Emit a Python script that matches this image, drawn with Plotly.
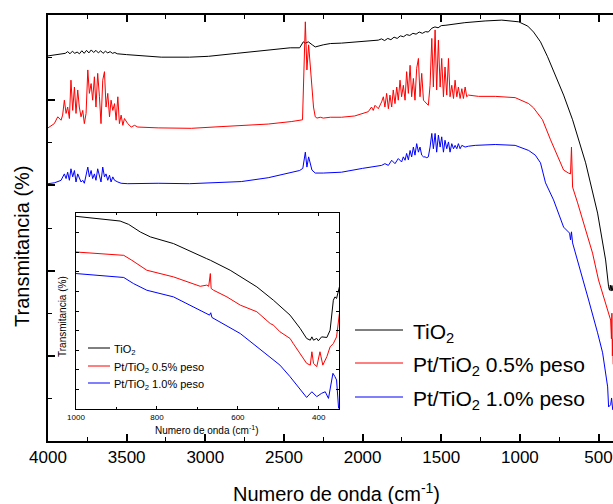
import plotly.graph_objects as go

FONT = "Liberation Sans, Arial, sans-serif"

# ---------------- main spectra (wavenumber in cm-1, transmittance in %) ----------------
tio2_wn = [4000, 3960, 3920, 3890, 3875, 3860, 3845, 3830, 3815, 3800, 3785, 3770, 3755,
           3740, 3725, 3710, 3695, 3680, 3665, 3650, 3635, 3620, 3605, 3590, 3575, 3560,
           3500, 3400, 3280, 3100, 2980, 2800, 2600, 2460, 2400, 2377, 2364, 2345, 2320,
           2301, 2250, 2205, 2134, 2050, 1962, 1900, 1880, 1860, 1840, 1820, 1800, 1780,
           1760, 1740, 1720, 1700, 1680, 1660, 1640, 1620, 1600, 1582, 1560, 1540, 1520,
           1500, 1470, 1454, 1350, 1221, 1115, 1008, 950, 913, 869, 824, 773, 722, 665,
           582, 506, 455, 436, 430, 425, 420, 415, 410, 405]
tio2_t = [90.4, 90.6, 90.8, 91.0, 91.4, 90.9, 91.5, 91.0, 91.3, 90.9, 91.6, 91.0, 91.7,
          91.1, 91.8, 91.2, 91.7, 91.1, 91.6, 91.0, 91.5, 91.1, 91.4, 91.0, 91.2, 90.9,
          90.7, 90.4, 90.1, 90.1, 90.3, 91.0, 91.7, 92.3, 92.3, 93.7, 93.4, 93.7, 93.0,
          92.5, 93.0, 93.3, 93.4, 93.6, 93.9, 94.1, 94.4, 94.0, 94.5, 94.2, 94.8, 94.5,
          95.1, 94.9, 95.4, 95.2, 95.7, 95.5, 96.0, 95.7, 96.1, 96.0, 96.9, 97.2, 97.0,
          97.5, 97.6, 97.7, 98.2, 98.6, 98.8, 98.4, 97.4, 96.0, 93.7, 90.2, 85.9, 81.2,
          75.4, 65.3, 53.5, 42.5, 36.2, 35.4, 36.6, 35.2, 36.5, 35.3, 36.0]

pt05_wn = [4000, 3991, 3960, 3938, 3917, 3907, 3896, 3885, 3875, 3864, 3854, 3843, 3832,
           3822, 3811, 3801, 3790, 3779, 3769, 3758, 3747, 3737, 3726, 3716, 3705, 3695,
           3684, 3673, 3663, 3652, 3641, 3631, 3620, 3609, 3599, 3588, 3577, 3567, 3556,
           3546, 3535, 3524, 3514, 3493, 3471, 3450, 3429, 3300, 3089, 2900, 2771, 2600,
           2450, 2382, 2364, 2354, 2343, 2333, 2322, 2312, 2301, 2290, 2269, 2250, 2205,
           2134, 2050, 2006, 1964, 1943, 1932, 1921, 1900, 1879, 1868, 1858, 1847, 1836,
           1826, 1815, 1805, 1794, 1783, 1773, 1762, 1752, 1741, 1730, 1720, 1709, 1698,
           1688, 1677, 1667, 1656, 1645, 1635, 1624, 1613, 1603, 1592, 1582, 1571, 1560,
           1550, 1539, 1529, 1518, 1507, 1497, 1486, 1476, 1465, 1454, 1444, 1433, 1422,
           1412, 1401, 1391, 1380, 1369, 1359, 1348, 1338, 1327, 1263, 1157, 1030, 944,
           913, 856, 805, 722, 691, 678, 672, 668, 665, 633, 595, 538, 500, 474, 442, 423,
           418, 415, 412, 409, 407]
pt05_t = [73.5, 73.7, 74.5, 76.1, 75.3, 76.5, 80.0, 76.9, 78.4, 75.7, 84.7, 77.6, 83.1,
          76.9, 82.4, 78.4, 76.1, 77.6, 74.5, 76.9, 87.1, 81.6, 83.9, 80.0, 85.5, 78.4,
          86.3, 80.8, 74.5, 84.7, 86.7, 78.4, 81.6, 76.1, 80.0, 77.6, 79.2, 75.3, 80.8,
          74.5, 76.5, 74.1, 75.7, 74.5, 73.7, 74.1, 73.7, 73.5, 73.4, 73.8, 74.1, 74.4,
          75.0, 75.4, 98.4, 87.1, 93.0, 88.7, 83.1, 78.4, 76.1, 75.8, 76.0, 75.8, 76.0,
          76.0, 76.3, 76.9, 77.3, 78.4, 77.6, 78.8, 78.0, 79.6, 80.8, 78.4, 81.6, 78.0,
          81.2, 78.4, 82.4, 79.2, 83.1, 80.0, 84.7, 80.8, 83.5, 80.0, 86.7, 81.6, 88.2,
          80.8, 85.1, 80.0, 87.5, 89.8, 80.8, 86.3, 80.0, 79.6, 79.2, 78.8, 83.5, 94.5,
          83.1, 96.5, 82.4, 94.1, 83.1, 89.8, 80.8, 87.8, 81.2, 89.8, 80.8, 83.5, 80.4,
          84.7, 80.8, 83.1, 80.4, 82.7, 80.4, 83.1, 80.8, 81.2, 80.9, 80.9, 80.6, 79.2,
          78.2, 75.4, 70.7, 63.6, 62.9, 62.7, 69.0, 62.4, 59.6, 55.9, 51.2, 44.1, 37.8,
          34.7, 30.8, 28.4, 24.0, 30.0, 20.0, 24.0, 18.0]

pt10_wn = [4000, 3960, 3930, 3917, 3896, 3885, 3875, 3864, 3854, 3843, 3832, 3822, 3811,
           3801, 3790, 3779, 3769, 3747, 3737, 3726, 3716, 3705, 3695, 3684, 3673, 3663,
           3652, 3641, 3631, 3620, 3609, 3599, 3588, 3577, 3556, 3535, 3493, 3300, 3100,
           2900, 2771, 2600, 2450, 2400, 2380, 2364, 2354, 2343, 2322, 2301, 2250, 2134,
           2000, 1900, 1879, 1858, 1836, 1815, 1794, 1773, 1752, 1741, 1730, 1720, 1709,
           1698, 1688, 1677, 1667, 1656, 1645, 1635, 1624, 1613, 1603, 1592, 1582, 1571,
           1560, 1550, 1539, 1529, 1518, 1507, 1497, 1486, 1476, 1465, 1454, 1444, 1433,
           1422, 1412, 1401, 1391, 1380, 1369, 1348, 1327, 1284, 1157, 1030, 944, 902,
           869, 837, 786, 722, 684, 678, 672, 665, 614, 563, 506, 474, 442, 436, 423, 417,
           410]
pt10_t = [60.4, 60.6, 61.0, 61.2, 62.7, 61.6, 63.1, 61.2, 63.9, 62.0, 63.5, 60.8, 62.7,
          61.6, 60.8, 61.2, 60.5, 64.3, 62.0, 63.5, 61.6, 62.7, 61.2, 63.9, 62.4, 60.8,
          64.3, 62.0, 62.7, 61.2, 62.4, 60.8, 62.0, 61.2, 60.8, 60.5, 60.4, 60.5, 60.4,
          60.6, 60.9, 61.8, 63.0, 63.5, 64.0, 67.8, 64.3, 66.7, 63.6, 62.9, 62.9, 63.1,
          64.0, 64.5, 64.7, 65.1, 64.7, 65.9, 65.1, 66.3, 65.5, 66.7, 65.9, 67.5, 66.0,
          68.2, 66.7, 69.0, 67.1, 69.8, 67.8, 69.0, 67.1, 66.7, 66.7, 66.5, 66.7, 69.0,
          72.2, 68.6, 72.2, 67.8, 71.8, 69.0, 71.4, 67.8, 70.6, 68.6, 70.2, 67.8, 69.8,
          68.6, 69.4, 68.6, 69.8, 68.6, 69.4, 69.0, 69.2, 69.4, 69.6, 69.4, 68.2, 67.1,
          65.3, 60.6, 56.6, 50.2, 48.8, 47.2, 49.1, 46.5, 40.1, 33.1, 25.4, 20.7, 12.7,
          8.0, 8.5, 10.1, 7.3]

# ---------------- inset: low-wavenumber region ----------------
in_tio2_wn = [1000, 891, 870, 841, 816, 759, 677, 668, 619, 553, 512, 471, 446, 430, 421,
              417, 413, 405, 401, 393, 380, 372, 364, 360, 356, 351, 349]
in_tio2_t = [98.3, 95.9, 94.2, 90.3, 87.8, 84.4, 76.7, 75.9, 70.8, 62.3, 55.5, 47.9, 41.1,
             36.0, 35.1, 36.8, 35.1, 36.0, 34.8, 36.8, 36.5, 40.2, 55.5, 57.2, 56.4, 60.6,
             62.3]

in_pt05_wn = [1000, 882, 862, 825, 759, 693, 677, 672, 668, 666, 660, 627, 594, 553, 520,
              512, 496, 471, 463, 446, 430, 421, 417, 413, 405, 397, 390, 380, 372, 364,
              356, 349]
in_pt05_t = [80.1, 78.4, 75.9, 70.8, 67.4, 62.6, 63.2, 62.6, 69.1, 61.5, 60.6, 57.2, 53.0,
             49.6, 43.6, 42.8, 39.4, 36.0, 33.4, 28.4, 23.3, 22.4, 29.2, 23.3, 21.6, 29.2,
             22.4, 26.7, 31.7, 33.4, 36.8, 48.7]

in_pt10_wn = [1000, 882, 858, 825, 759, 677, 670, 667, 664, 594, 512, 496, 471, 438, 430,
              417, 405, 393, 384, 376, 365, 360, 356, 351]
in_pt10_t = [69.1, 67.1, 64.0, 60.6, 57.2, 48.7, 47.9, 49.1, 46.7, 38.5, 25.0, 22.4, 16.5,
             8.0, 5.9, 8.8, 6.3, 8.0, 8.8, 5.4, 18.2, 16.5, 14.8, 0.3]

names = ["TiO<sub>2</sub>", "Pt/TiO<sub>2</sub> 0.5% peso", "Pt/TiO<sub>2</sub> 1.0% peso"]
colors = ["#000000", "#ff0000", "#0000ff"]

main_sets = [(tio2_wn, tio2_t), (pt05_wn, pt05_t), (pt10_wn, pt10_t)]
inset_sets = [(in_tio2_wn, in_tio2_t), (in_pt05_wn, in_pt05_t), (in_pt10_wn, in_pt10_t)]

fig = go.Figure()
for (wn, t), name, c in zip(main_sets, names, colors):
    fig.add_trace(go.Scatter(x=wn, y=t, mode="lines", name=name,
                             line=dict(color=c, width=1), showlegend=False,
                             xaxis="x", yaxis="y"))
for (wn, t), name, c in zip(inset_sets, names, colors):
    fig.add_trace(go.Scatter(x=wn, y=t, mode="lines", name=name,
                             line=dict(color=c, width=1), showlegend=False,
                             xaxis="x2", yaxis="y2"))

# plot area in pixels: x 48..613, y 15..441
L, R, T, B = 48, 613, 15, 441
W, H = R - L, B - T


def px(x):
    return (x - L) / W


def py(y):
    return (B - y) / H


fig.update_layout(
    width=613, height=504,
    margin=dict(l=L, r=613 - R, t=T, b=504 - B),
    paper_bgcolor="white", plot_bgcolor="white",
    font=dict(family=FONT, color="black"),
    xaxis=dict(range=[4000, 408], domain=[0, 1], anchor="y",
               showline=True, linewidth=1.5, linecolor="black", mirror="allticks",
               ticks="inside", ticklen=7, tickwidth=1.5, tickcolor="black",
               tick0=0, dtick=500, tickfont=dict(size=17),
               minor=dict(ticks="inside", dtick=250, ticklen=4, tickwidth=1.2,
                          tickcolor="black"),
               showgrid=False, zeroline=False),
    yaxis=dict(range=[0, 100], domain=[0, 1], anchor="x",
               showline=True, linewidth=1.5, linecolor="black", mirror=False,
               ticks="inside", ticklen=7, tickwidth=1.5, tickcolor="black",
               tick0=0, dtick=20, showticklabels=False,
               minor=dict(ticks="inside", dtick=10, ticklen=4, tickwidth=1.2,
                          tickcolor="black"),
               showgrid=False, zeroline=False),
    xaxis2=dict(range=[1000, 350], domain=[px(76), px(339)], anchor="y2",
                showline=True, linewidth=1, linecolor="black", mirror="allticks",
                ticks="inside", ticklen=3, tickwidth=1, tickcolor="black",
                tick0=0, dtick=200, tickfont=dict(size=8),
                minor=dict(ticks="inside", dtick=100, ticklen=2, tickcolor="black"),
                showgrid=False, zeroline=False),
    yaxis2=dict(range=[0, 100], domain=[py(409), py(213)], anchor="x2",
                showline=True, linewidth=1, linecolor="black", mirror="allticks",
                ticks="inside", ticklen=3, tickwidth=1, tickcolor="black",
                tick0=0, dtick=10, showticklabels=False,
                showgrid=False, zeroline=False),
)

ann = []
shapes = []
# axis titles
ann.append(dict(text="Numero de onda (cm<sup>-1</sup>)", x=px(336), y=py(492),
                xref="paper", yref="paper", showarrow=False,
                xanchor="center", yanchor="middle", font=dict(size=20)))
ann.append(dict(text="Transmitancia (%)", x=px(22), y=py(246), textangle=-90,
                xref="paper", yref="paper", showarrow=False,
                xanchor="center", yanchor="middle", font=dict(size=20)))
ann.append(dict(text="Numero de onda (cm<sup>-1</sup>)", x=px(207), y=py(430),
                xref="paper", yref="paper", showarrow=False,
                xanchor="center", yanchor="middle", font=dict(size=10)))
ann.append(dict(text="Transmitancia (%)", x=px(62), y=py(317), textangle=-90,
                xref="paper", yref="paper", showarrow=False,
                xanchor="center", yanchor="middle", font=dict(size=10)))

# legends (main and inset)
main_rows = [330, 363, 397]
inset_rows = [348, 366, 383]
for name, c, ym, yi in zip(names, colors, main_rows, inset_rows):
    shapes.append(dict(type="line", xref="paper", yref="paper",
                       x0=px(355), x1=px(403), y0=py(ym), y1=py(ym),
                       line=dict(color=c, width=1)))
    ann.append(dict(text=name, x=px(411), y=py(ym + 3), xref="paper", yref="paper",
                    showarrow=False, xanchor="left", yanchor="middle",
                    font=dict(size=21)))
    shapes.append(dict(type="line", xref="paper", yref="paper",
                       x0=px(88), x1=px(110), y0=py(yi), y1=py(yi),
                       line=dict(color=c, width=1)))
    ann.append(dict(text=name, x=px(112), y=py(yi + 1.5), xref="paper", yref="paper",
                    showarrow=False, xanchor="left", yanchor="middle",
                    font=dict(size=11)))

fig.update_layout(annotations=ann, shapes=shapes)
fig.write_html("out.html")
